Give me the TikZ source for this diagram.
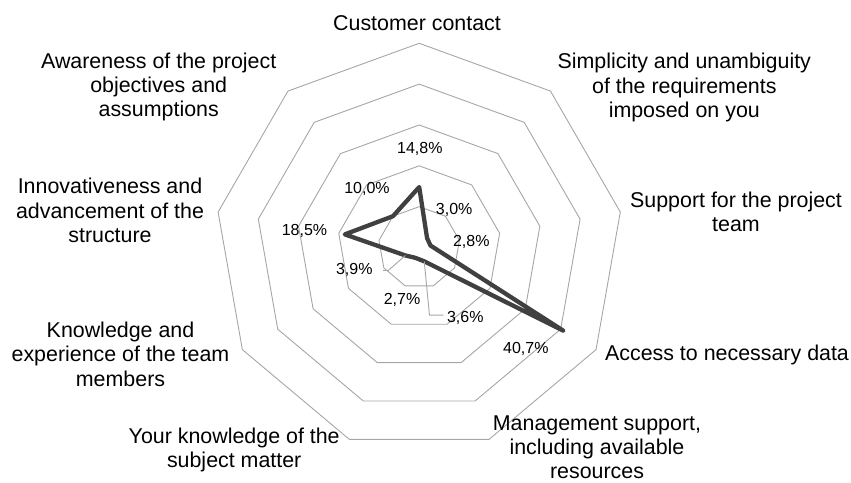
\documentclass[tikz,border=0pt]{standalone}
\usepackage{fontspec}
\setmainfont{Liberation Sans}
\usetikzlibrary{calc}
\definecolor{ringgray}{HTML}{A6A6A6}
\definecolor{seriesgray}{HTML}{404040}
\begin{document}
\begin{tikzpicture}[x=1pt,y=1pt,
  ring/.style={draw=ringgray, line width=0.9pt},
  series/.style={draw=seriesgray, line width=4.3pt, line join=round},
  leader/.style={draw=ringgray, line width=0.9pt},
  cat/.style={font=\fontsize{21.4}{24.3}\selectfont, align=center, anchor=base, inner sep=0pt},
  val/.style={font=\fontsize{16}{19}\selectfont, anchor=base, inner sep=0pt}]
\useasboundingbox (0,0) rectangle (851,482);
\begin{scope}[shift={(419.2,234.5)}]
  \foreach \k in {1,...,5} {
    \draw[ring] (90:{\k*40.84}) \foreach \i in {1,...,8} { -- ({90-40*\i}:{\k*40.84}) } -- cycle;
  }
  \foreach \n/\a/\v in {p0/90/14.8, p1/50/3.0, p2/10/2.8, p3/-30/40.7, p4/-70/3.6,
                        p5/-110/2.7, p6/-150/3.9, p7/170/18.5, p8/130/10.0}
    \coordinate (\n) at (\a:{\v*4.084});
\end{scope}
\draw[series] (p0) -- (p1) -- (p2) -- (p3) -- (p4) -- (p5) -- (p6) -- (p7) -- (p8) -- cycle;

% category labels (anchor = baseline of last line)
\node[cat] (c0) at (417,451) {Customer contact};
\node[cat] (c1) at (684.3,364.4) {Simplicity and unambiguity\\of the requirements\\imposed on you};
\node[cat] (c2) at (736,250.4) {Support for the project\\team};
\node[cat] (c3) at (727,121.3) {Access to necessary data};
\node[cat] (c4) at (597,3.2) {Management support,\\including available\\resources};
\node[cat] (c5) at (234.2,14.4) {Your knowledge of the\\subject matter};
\node[cat] (c6) at (120.5,95.7) {Knowledge and\\experience of the team\\members};
\node[cat] (c7) at (110,239.4) {Innovativeness and\\advancement of the\\structure};
\node[cat] (c8) at (158.7,365.1) {Awareness of the project\\objectives and\\assumptions};

% value labels
\node[val] (v0) at (419.8,328.7) {14,8\%};
\node[val] (v1) at (454.2,267) {3,0\%};
\node[val] (v2) at (471.3,235.3) {2,8\%};
\node[val] (v3) at (525.8,128) {40,7\%};
\node[val] (v4) at (465.3,159.3) {3,6\%};
\node[val] (v5) at (402,177.7) {2,7\%};
\node[val] (v6) at (354.3,207) {3,9\%};
\node[val] (v7) at (304.5,246.3) {18,5\%};
\node[val] (v8) at (367,288.7) {10,0\%};

% leader lines
\draw[leader] ([xshift=10.5pt]v6.east) -- ([xshift=15.5pt]v6.east) -- (p6);
\draw[leader] (p4) -- ([xshift=-17.4pt,yshift=3pt]v4.west) -- ([xshift=-3.4pt,yshift=3pt]v4.west);
\end{tikzpicture}
\end{document}
